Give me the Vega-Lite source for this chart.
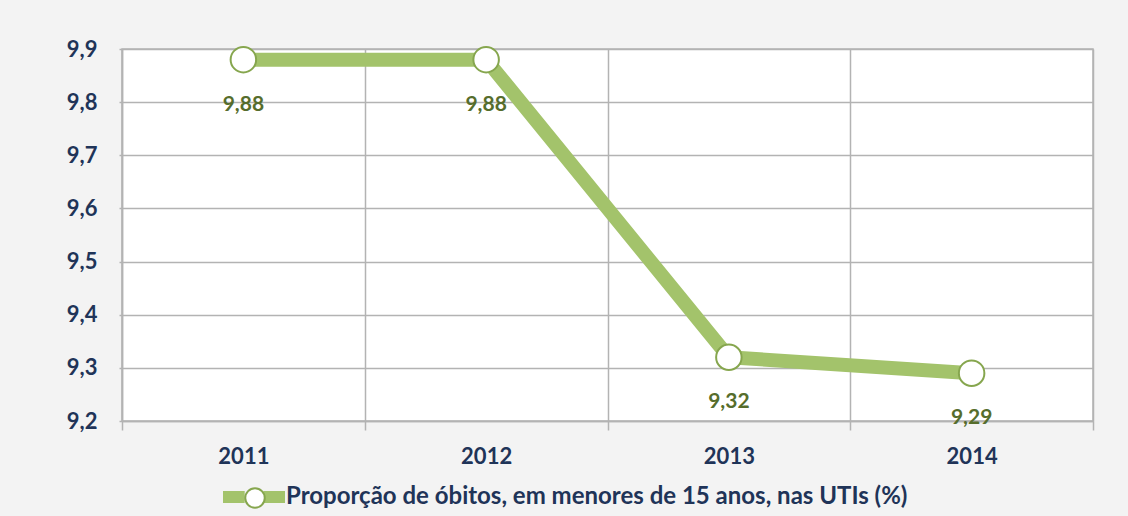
{
  "$schema": "https://vega.github.io/schema/vega-lite/v6.json",
  "autosize": "none",
  "width": 971,
  "height": 372,
  "padding": {"left": 122, "top": 49, "right": 35, "bottom": 95},
  "background": "#f3f3f3",
  "config": {
    "locale": {"number": {"decimal": ",", "thousands": ".", "grouping": [3], "currency": ["R$", ""]}},
    "view": {"fill": "white", "stroke": "#b3b3b3", "strokeWidth": 1.5},
    "font": "Lato"
  },
  "data": {
    "values": [
      {"ano": "2011", "valor": 9.88, "serie": "Proporção de óbitos, em menores de 15 anos, nas UTIs (%)"},
      {"ano": "2012", "valor": 9.88, "serie": "Proporção de óbitos, em menores de 15 anos, nas UTIs (%)"},
      {"ano": "2013", "valor": 9.32, "serie": "Proporção de óbitos, em menores de 15 anos, nas UTIs (%)"},
      {"ano": "2014", "valor": 9.29, "serie": "Proporção de óbitos, em menores de 15 anos, nas UTIs (%)"}
    ]
  },
  "encoding": {
    "x": {
      "field": "ano", "type": "ordinal",
      "scale": {"type": "band", "paddingInner": 0, "paddingOuter": 0},
      "axis": {
        "title": null, "labelAngle": 0, "tickBand": "extent", "grid": true,
        "gridColor": "#b3b3b3", "gridWidth": 1.5,
        "domainColor": "#b3b3b3", "domainWidth": 1.5,
        "tickColor": "#b3b3b3", "tickWidth": 1.5, "tickSize": 9,
        "labelFont": "Lato", "labelFontWeight": "bold", "labelFontSize": 22,
        "labelColor": "#1f3458", "labelPadding": 16
      }
    },
    "y": {
      "field": "valor", "type": "quantitative",
      "scale": {"domain": [9.2, 9.9], "nice": false, "zero": false},
      "axis": {
        "title": null, "values": [9.2, 9.3, 9.4, 9.5, 9.6, 9.7, 9.8, 9.9], "format": ".1f",
        "gridColor": "#b3b3b3", "gridWidth": 1.5,
        "domainColor": "#b3b3b3", "domainWidth": 1.5,
        "tickColor": "#b3b3b3", "tickWidth": 1.5, "tickSize": 3,
        "labelFont": "Lato", "labelFontWeight": "bold", "labelFontSize": 22,
        "labelColor": "#1f3458", "labelPadding": 22
      }
    }
  },
  "layer": [
    {
      "mark": {"type": "line", "strokeWidth": 14, "strokeCap": "butt", "strokeJoin": "round"},
      "encoding": {
        "color": {
          "field": "serie", "type": "nominal",
          "scale": {"range": ["#a3c36b"]},
          "legend": {
            "title": null, "orient": "none", "legendX": 101, "legendY": 417, "padding": 0,
            "symbolType": "M-1,-0.19 L-0.3,-0.19 L-0.3,0.19 L-1,0.19 Z M0.3,-0.19 L1,-0.19 L1,0.19 L0.3,0.19 Z",
            "symbolSize": 3844, "symbolFillColor": "#a3c36b", "symbolStrokeWidth": 0,
            "labelFont": "Lato", "labelFontWeight": "bold", "labelFontSize": 24,
            "labelColor": "#1f3458", "labelLimit": 900, "symbolOffset": 0, "labelOffset": 1
          }
        }
      }
    },
    {
      "mark": {"type": "point", "shape": "circle", "filled": true, "stroke": "#86a64e", "strokeWidth": 2, "size": 650, "opacity": 1},
      "encoding": {
        "fill": {
          "field": "serie", "type": "nominal",
          "scale": {"range": ["#ffffff"]},
          "legend": {
            "title": null, "orient": "none", "legendX": 122, "legendY": 438, "padding": 0,
            "symbolType": "circle", "symbolSize": 380, "symbolFillColor": "#ffffff",
            "symbolStrokeColor": "#86a64e", "symbolStrokeWidth": 2, "symbolOpacity": 1,
            "labelExpr": "''", "labelFontSize": 1, "labelOffset": 0, "symbolOffset": 0
          }
        }
      }
    },
    {
      "mark": {"type": "text", "dy": 45, "fontSize": 21, "fontWeight": "bold", "font": "Lato", "color": "#566d2c"},
      "encoding": {"text": {"field": "valor", "type": "quantitative", "format": ".2f"}}
    }
  ]
}
